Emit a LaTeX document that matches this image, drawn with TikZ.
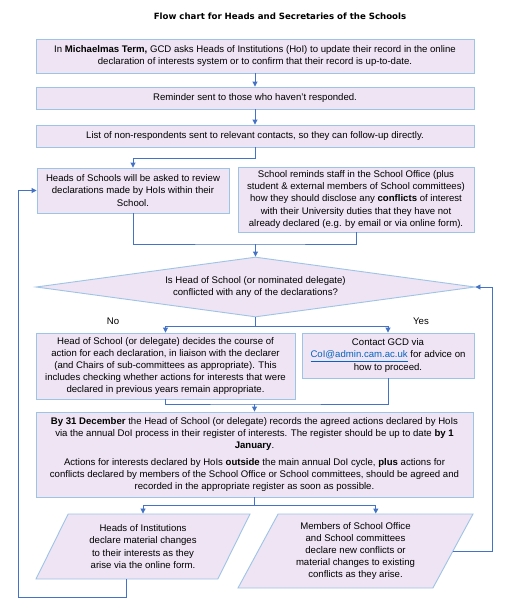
\documentclass[tikz,border=0pt]{standalone}
\usepackage{fontspec}
\setmainfont{Liberation Sans}
\newfontfamily\titlefont{DejaVu Sans}
\usetikzlibrary{shapes.geometric,arrows.meta,calc}
\definecolor{boxfill}{HTML}{EEE4F3}
\definecolor{boxline}{HTML}{9DC3E6}
\definecolor{arr}{HTML}{4472C4}
\definecolor{linkblue}{HTML}{0563C1}
\begin{document}
\begin{tikzpicture}[x=1pt,y=-1pt,
 base/.style={draw=boxline,fill=boxfill,line width=0.9pt,align=center,font=\fontsize{9.6}{12.2}\selectfont,inner sep=0pt},
 box/.style={base,rectangle},
 para/.style={base,trapezium,trapezium stretches body=true,inner sep=2pt},
 flow/.style={draw=arr,line width=0.9pt},
 arrow/.style={flow,-{Triangle[length=5pt,width=5pt]}},
 lbl/.style={font=\fontsize{9.6}{12}\selectfont}]
\useasboundingbox (0,0) rectangle (509,614);

\node[font=\titlefont\bfseries\fontsize{8.6}{10}\selectfont] (title) at (280,16) {Flow chart for Heads and Secretaries of the Schools};

\node[box,minimum width=438,minimum height=34] (b1) at (255,56) {In \textbf{Michaelmas Term,} GCD asks Heads of Institutions (HoI) to update their record in the online\\ declaration of interests system or to confirm that their record is up-to-date.};
\node[box,minimum width=438,minimum height=22] (b2) at (255,98) {Reminder sent to those who haven’t responded.};
\node[box,minimum width=438,minimum height=22] (b3) at (255,136) {List of non-respondents sent to relevant contacts, so they can follow-up directly.};
\node[box,minimum width=192,minimum height=45] (b4) at (133,190.5) {Heads of Schools will be asked to review\\ declarations made by HoIs within their\\ School.};
\node[box,minimum width=236,minimum height=65] (b5) at (356,199.5) {School reminds staff in the School Office (plus\\ student \& external members of School committees)\\ how they should disclose any \textbf{conflicts} of interest\\ with their University duties that they have not\\ already declared (e.g. by email or via online form).};
\node[base,diamond,aspect=7,minimum width=439,minimum height=60] (d) at (255.5,287) {Is Head of School (or nominated delegate)\\ conflicted with any of the declarations?};
\node[box,minimum width=259,minimum height=66] (b6) at (165.5,366) {Head of School (or delegate) decides the course of\\ action for each declaration, in liaison with the declarer\\ (and Chairs of sub-committees as appropriate). This\\ includes checking whether actions for interests that were\\ declared in previous years remain appropriate.};
\node[box,minimum width=172,minimum height=45] (b7) at (388,355.5) {Contact GCD via\\ {\color{linkblue}\underline{CoI@admin.cam.ac.uk}} for advice on\\ how to proceed.};
\node[box,minimum width=437,minimum height=85] (b8) at (254.5,454.5) {\textbf{By 31 December} the Head of School (or delegate) records the agreed actions declared by HoIs\\ via the annual DoI process in their register of interests. The register should be up to date \textbf{by 1}\\ \textbf{January}.\\[4pt] Actions for interests declared by HoIs \textbf{outside} the main annual DoI cycle, \textbf{plus} actions for\\ conflicts declared by members of the School Office or School committees, should be agreed and\\ recorded in the appropriate register as soon as possible.};
\node[para,trapezium left angle=56,trapezium right angle=124,minimum width=214,minimum height=65] (p1) at (143,546.5) {Heads of Institutions\\ declare material changes\\ to their interests as they\\ arise via the online form.};
\node[para,trapezium left angle=57,trapezium right angle=123,minimum width=235,minimum height=74] (p2) at (355.5,551) {Members of School Office\\ and School committees\\ declare new conflicts or\\ material changes to existing\\ conflicts as they arise.};

\node[lbl] (no) at (113,321) {No};
\node[lbl] (yes) at (421,321) {Yes};

\draw[arrow] (b1.south) -- (b2.north);
\draw[arrow] (b2.south) -- (b3.north);
\coordinate (j1) at (255,158);
\draw[arrow] (b3.south) -- (j1) -| (b4.north);
\coordinate (j2) at (255.5,244);
\draw[flow] (b4.south) |- (j2) -| (b5.south);
\draw[arrow] (j2) -- (d.north);
\coordinate (j3) at (255.5,326);
\draw[flow] (d.south) -- (j3);
\draw[arrow] (j3) -| (b6.north);
\draw[arrow] (j3) -| (b7.north);
\coordinate (j4) at (254.5,404);
\draw[flow] (b6.south) |- (j4) -| (b7.south);
\draw[arrow] (j4) -- (b8.north);
\coordinate (j5) at (254.5,505);
\draw[flow] (b8.south) -- (j5);
\draw[arrow] (j5) -| (p1.north);
\draw[arrow] (j5) -| (p2.top side);
\coordinate (l1) at (18,597);
\draw[arrow] (p1.bottom side) |- (l1) |- (b4.west);
\coordinate (l2) at (492,551);
\draw[arrow] (p2.right side) -- (l2) |- (d.east);
\end{tikzpicture}
\end{document}
